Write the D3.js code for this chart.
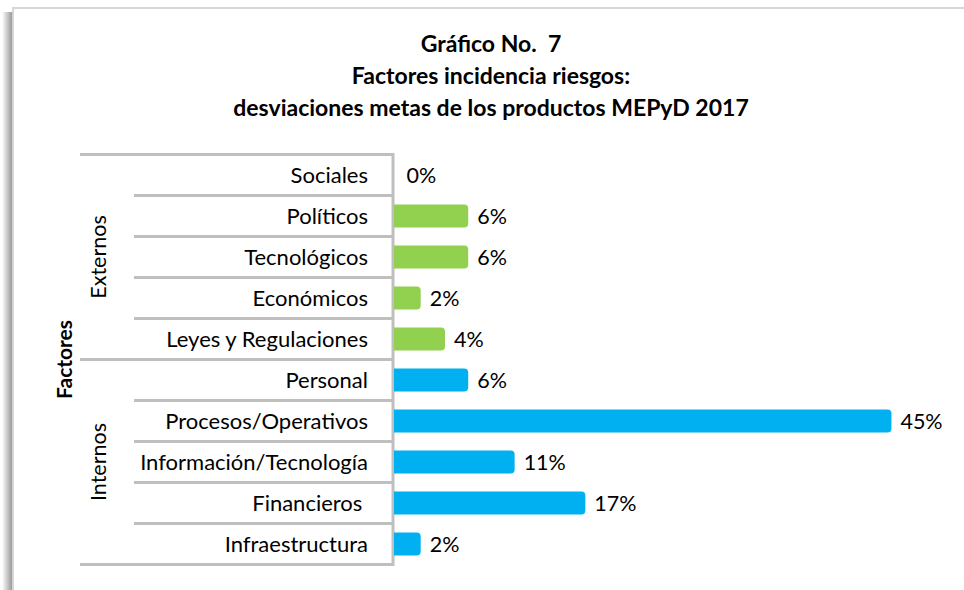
<html>
<head>
<meta charset="utf-8">
<script src="https://d3js.org/d3.v7.min.js"></script>
<style>
    body { margin: 0; background: #fff; }
    text { font-family: Lato, "Open Sans", sans-serif; fill: #000; }
    .title { font-weight: bold; font-size: 23px; }
    .cat { font-size: 22px; white-space: pre; }
    .val { font-size: 21.5px; }
    .grp { font-size: 21.5px; }
    .axisTitle { font-weight: bold; font-size: 21px; }
</style>
</head>
<body>
    <svg id="barchart" width="964" height="590"></svg>

    <script>
        // data (percent of factors)
        const titleLines = ["Gráfico No.  7", "Factores incidencia riesgos:", "desviaciones metas de los productos MEPyD 2017"];
        const categories = ["Sociales", "Políticos", "Tecnológicos", "Económicos", "Leyes y Regulaciones",
                            "Personal", "Procesos/Operativos", "Información/Tecnología", "Financieros ", "Infraestructura"];
        const groupOf = ["Externos", "Externos", "Externos", "Externos", "Externos",
                         "Internos", "Internos", "Internos", "Internos", "Internos"];
        const groups = ["Externos", "Internos"];
        const values = [0, 6.4, 6.4, 2.1, 4.3, 6.4, 44.7, 10.6, 17.0, 2.1];
        const axisTitle = "Factores";

        const svg = d3.select("svg#barchart");
        const width = +svg.attr("width");
        const height = +svg.attr("height");

        const colors = d3.scaleOrdinal().domain(groups).range(["#92d050", "#00b0f0"]);

        // frame with soft shadow on the left
        const defs = svg.append("defs");
        const grad = defs.append("linearGradient").attr("id", "shadow")
                         .attr("x1", "0").attr("x2", "1").attr("y1", "0").attr("y2", "0");
        grad.append("stop").attr("offset", "0%").attr("stop-color", "#ffffff");
        grad.append("stop").attr("offset", "100%").attr("stop-color", "#8f8f8f");
        svg.append("rect").attr("x", 2).attr("y", 12).attr("width", 11).attr("height", height)
           .attr("fill", "url(#shadow)");
        svg.append("rect").attr("x", 13).attr("y", 8).attr("width", width).attr("height", height)
           .attr("fill", "#fff").attr("stroke", "#d6d6d6").attr("stroke-width", 2);

        // title
        svg.append("g").selectAll("text").data(titleLines).join("text")
           .attr("class", "title")
           .attr("x", 491)
           .attr("y", (d, i) => 52 + i * 32)
           .attr("text-anchor", "middle")
           .style("white-space", "pre")
           .text(d => d);

        // scales
        const axisX = 393;
        const x = d3.scaleLinear().domain([0, 45]).range([397.5, 894.75]);
        const y = d3.scaleBand().domain(categories).range([154.5, 564.5])
                    .paddingInner(0.44).paddingOuter(0.22);
        const step = y.step();
        const rowTop = d => y(d) - y.paddingOuter() * step;

        const data = categories.map((c, i) => ({cat: c, group: groupOf[i], value: values[i]}));

        // separator lines of the category axis
        const lines = svg.append("g").attr("stroke", "#bfbfbf").attr("stroke-width", 3);
        const boundaries = categories.map((c, i) => ({y: rowTop(c), outer: i == 0 || groupOf[i] != groupOf[i - 1]}));
        boundaries.push({y: rowTop(categories[categories.length - 1]) + step, outer: true});
        lines.selectAll("line.sep").data(boundaries).join("line").attr("class", "sep")
             .attr("x1", d => d.outer ? 80 : 134)
             .attr("x2", axisX)
             .attr("y1", d => d.y).attr("y2", d => d.y);
        lines.append("line")
             .attr("x1", axisX).attr("x2", axisX)
             .attr("y1", boundaries[0].y - 1.5)
             .attr("y2", boundaries[boundaries.length - 1].y + 1.5);

        // category labels
        svg.append("g").selectAll("text").data(data).join("text")
           .attr("class", "cat")
           .attr("x", 368)
           .attr("y", d => y(d.cat) + y.bandwidth() / 2)
           .attr("dy", "0.35em")
           .attr("text-anchor", "end")
           .text(d => d.cat);

        // group labels
        svg.append("g").selectAll("text").data(groups).join("text")
           .attr("class", "grp")
           .attr("transform", g => {
               const members = data.filter(d => d.group == g);
               const top = rowTop(members[0].cat);
               const bottom = rowTop(members[members.length - 1].cat) + step;
               return `translate(106, ${(top + bottom) / 2}) rotate(-90)`;
           })
           .attr("text-anchor", "middle")
           .text(g => g);

        svg.append("text").attr("class", "axisTitle")
           .attr("transform", `translate(72, ${rowTop(categories[5])}) rotate(-90)`)
           .attr("text-anchor", "middle")
           .text(axisTitle);

        // bars with rounded right end
        const r = 4;
        const barPath = d => {
            const x0 = axisX + 1, x1 = x(d.value), y0 = y(d.cat), h = y.bandwidth();
            if (x1 - x0 <= r) return "";
            return `M${x0},${y0}H${x1 - r}Q${x1},${y0} ${x1},${y0 + r}V${y0 + h - r}Q${x1},${y0 + h} ${x1 - r},${y0 + h}H${x0}Z`;
        };
        svg.append("g").selectAll("path.bar").data(data).join("path")
           .attr("class", "bar")
           .attr("d", barPath)
           .attr("fill", d => colors(d.group));

        // value labels
        svg.append("g").selectAll("text").data(data).join("text")
           .attr("class", "val")
           .attr("x", d => Math.max(x(d.value), axisX + 1) + 9)
           .attr("y", d => y(d.cat) + y.bandwidth() / 2)
           .attr("dy", "0.35em")
           .text(d => Math.round(d.value) + "%");
    </script>
</body>
</html>
